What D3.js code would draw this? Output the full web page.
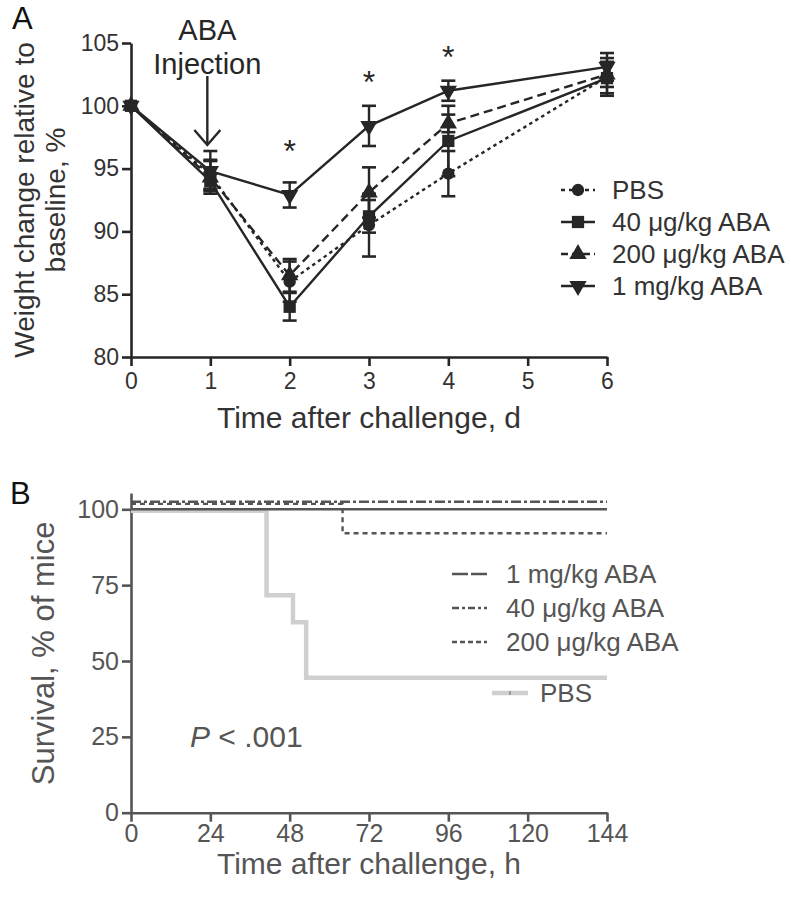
<!DOCTYPE html>
<html><head><meta charset="utf-8">
<script src="https://cdn.jsdelivr.net/npm/d3@7"></script>
<style>body{margin:0;background:#fff} text{font-family:"Liberation Sans",Arial,Helvetica,sans-serif}</style>
</head><body><svg id="c" width="791" height="899"></svg>
<script>
// ---------- Panel A data ----------
const days = [0, 1, 2, 3, 4, 6];
const dayTicks = [0, 1, 2, 3, 4, 5, 6];
const weightTicks = [80, 85, 90, 95, 100, 105];
const groupNames = ["PBS", "40 \u03bcg/kg ABA", "200 \u03bcg/kg ABA", "1 mg/kg ABA"];
const pbsMean   = [100, 94.5, 86.0, 90.5, 94.6, 102.3];
const pbsErr    = [0, 1.2, 1.6, 2.5, 1.8, 1.5];
const aba40Mean = [100, 94.0, 84.0, 91.2, 97.2, 102.2];
const aba40Err  = [0, 0.6, 1.1, 1.3, 2.8, 1.2];
const aba200Mean= [100, 94.3, 86.5, 93.1, 98.6, 102.5];
const aba200Err = [0, 1.3, 1.3, 2.0, 0.7, 1.0];
const aba1Mean  = [100, 94.8, 92.9, 98.4, 101.2, 103.1];
const aba1Err   = [0, 1.6, 1.0, 1.6, 0.8, 1.1];
const starDays  = [2, 3, 4];
const starLevel = [96.9, 102.4, 104.4];

// ---------- Panel B data ----------
const hourTicks = [0, 24, 48, 72, 96, 120, 144];
const survTicks = [0, 25, 50, 75, 100];
const survNames = ["1 mg/kg ABA", "40 \u03bcg/kg ABA", "200 \u03bcg/kg ABA", "PBS"];
const aba1Time = [0, 144],            aba1Surv = [100, 100];
const aba40Time = [0, 144],           aba40Surv = [102.5, 102.5];
const aba200Time = [0, 64, 144],      aba200Surv = [101.8, 92.1, 92.1];
const pbsTime = [0, 41, 49, 53, 144], pbsSurv = [99.5, 71.7, 62.8, 44.5, 44.5];

const svg = d3.select("#c");
const FONT = '"Liberation Sans",Arial,Helvetica,sans-serif';

// ================= Panel A =================
const xA = d3.scaleLinear().domain([0, 6]).range([131, 607]);
const yA = d3.scaleLinear().domain([80, 105]).range([357, 43]);
const inkA = "#262626";

const gA = svg.append("g");
const axA_x = gA.append("g").attr("transform", `translate(0,${yA(80)})`)
  .call(d3.axisBottom(xA).tickValues(dayTicks).tickFormat(d3.format("d")).tickSize(9).tickSizeOuter(0).tickPadding(5));
const axA_y = gA.append("g").attr("transform", `translate(${xA(0)},0)`)
  .call(d3.axisLeft(yA).tickValues(weightTicks).tickFormat(d3.format("d")).tickSize(9).tickSizeOuter(0).tickPadding(3));
[axA_x, axA_y].forEach(a => {
  a.selectAll("path,line").attr("stroke", inkA).attr("stroke-width", 2.6);
  a.selectAll("text").attr("fill", "#333").style("font-size", "23px").style("font-family", FONT);
});
axA_x.selectAll("text").attr("dy", "0.8em");

const seriesA = [
  {name: groupNames[0], mean: pbsMean,   err: pbsErr,   dash: "3.5,3.5", sym: d3.symbolCircle,   size: 120, rot: 0},
  {name: groupNames[1], mean: aba40Mean, err: aba40Err, dash: null,      sym: d3.symbolSquare,   size: 150, rot: 0},
  {name: groupNames[2], mean: aba200Mean,err: aba200Err,dash: "9,5",     sym: d3.symbolTriangle, size: 130, rot: 0},
  {name: groupNames[3], mean: aba1Mean,  err: aba1Err,  dash: null,      sym: d3.symbolTriangle, size: 130, rot: 180}
];
const lineA = d3.line().x(d => xA(d[0])).y(d => yA(d[1]));
seriesA.forEach(s => {
  const pts = days.map((d, i) => [d, s.mean[i]]);
  gA.append("path").attr("d", lineA(pts)).attr("fill", "none").attr("stroke", inkA)
    .attr("stroke-width", 2.4).attr("stroke-dasharray", s.dash);
});
seriesA.forEach(s => {
  days.forEach((d, i) => {
    if (s.err[i] > 0) {
      const x = xA(d), y1 = yA(s.mean[i] - s.err[i]), y2 = yA(s.mean[i] + s.err[i]);
      gA.append("line").attr("x1", x).attr("x2", x).attr("y1", y1).attr("y2", y2).attr("stroke", inkA).attr("stroke-width", 2.4);
      [y1, y2].forEach(yy => gA.append("line").attr("x1", x - 7).attr("x2", x + 7).attr("y1", yy).attr("y2", yy).attr("stroke", inkA).attr("stroke-width", 2.6));
    }
  });
});
seriesA.forEach(s => {
  days.forEach((d, i) => {
    gA.append("path").attr("d", d3.symbol().type(s.sym).size(s.size)())
      .attr("transform", `translate(${xA(d)},${yA(s.mean[i])}) rotate(${s.rot})`).attr("fill", inkA);
  });
});
// asterisks
starDays.forEach((d, i) => {
  gA.append("text").attr("x", xA(d)).attr("y", yA(starLevel[i]) + 17).attr("text-anchor", "middle")
    .style("font-size", "32px").attr("fill", inkA).text("*");
});
// ABA injection annotation
const ax1 = xA(1) - 3;
gA.append("text").attr("x", ax1).attr("y", 40).attr("text-anchor", "middle").style("font-size", "29px").attr("fill", inkA).text("ABA");
gA.append("text").attr("x", ax1).attr("y", 74).attr("text-anchor", "middle").style("font-size", "29px").attr("fill", inkA).text("Injection");
gA.append("line").attr("x1", ax1).attr("x2", ax1).attr("y1", 76).attr("y2", 144).attr("stroke", inkA).attr("stroke-width", 2.4);
gA.append("path").attr("d", `M${ax1 - 13},130 L${ax1},145 L${ax1 + 13},130`).attr("fill", "none").attr("stroke", inkA).attr("stroke-width", 2.4);

// titles
gA.append("text").attr("x", 12).attr("y", 29).style("font-size", "31px").attr("fill", "#111").text("A");
gA.append("text").attr("transform", `translate(34,${(yA(80) + yA(105)) / 2}) rotate(-90)`).attr("text-anchor", "middle")
  .style("font-size", "28px").attr("fill", "#333").text("Weight change relative to");
gA.append("text").attr("transform", `translate(65,${(yA(80) + yA(105)) / 2}) rotate(-90)`).attr("text-anchor", "middle")
  .style("font-size", "28px").attr("fill", "#333").text("baseline, %");
gA.append("text").attr("x", (xA(0) + xA(6)) / 2).attr("y", 428).attr("text-anchor", "middle")
  .style("font-size", "30px").attr("fill", "#333").text("Time after challenge, d");

// legend A
const legA = gA.append("g");
seriesA.forEach((s, i) => {
  const y = 190 + i * 32;
  legA.append("line").attr("x1", 561).attr("x2", 595).attr("y1", y).attr("y2", y).attr("stroke", inkA)
    .attr("stroke-width", 2.4).attr("stroke-dasharray", s.dash ? (i === 0 ? "4,4" : "7,4") : null);
  legA.append("path").attr("d", d3.symbol().type(s.sym).size(s.size)()).attr("transform", `translate(578,${y}) rotate(${s.rot})`).attr("fill", inkA);
  legA.append("text").attr("x", 612).attr("y", y + 9).style("font-size", "26px").attr("fill", "#333").text(s.name);
});

// ================= Panel B =================
const xB = d3.scaleLinear().domain([0, 144]).range([131, 607]);
const yB = d3.scaleLinear().domain([0, 100]).range([812.7, 509.3]);
const inkB = "#555";
const gB = svg.append("g");
const axB_x = gB.append("g").attr("transform", `translate(0,${yB(0)})`)
  .call(d3.axisBottom(xB).tickValues(hourTicks).tickSize(9).tickSizeOuter(0).tickPadding(3));
const axB_y = gB.append("g").attr("transform", `translate(${xB(0)},0)`)
  .call(d3.axisLeft(yB.copy().domain([0, 105.4]).range([812.7, 812.7 - 303.4 * 1.054])).tickValues(survTicks).tickSize(9).tickSizeOuter(0).tickPadding(3));
[axB_x, axB_y].forEach(a => {
  a.selectAll("path,line").attr("stroke", inkB).attr("stroke-width", 2.6);
  a.selectAll("text").attr("fill", inkB).style("font-size", "25px").style("font-family", FONT);
});

const stepLine = d3.line().curve(d3.curveStepAfter).x(d => xB(d[0])).y(d => yB(d[1]));
const seriesB = [
  {name: survNames[0], t: aba1Time,   s: aba1Surv,   color: inkB,   w: 2.6, dash: null},
  {name: survNames[1], t: aba40Time,  s: aba40Surv,  color: inkB,   w: 2.4, dash: "10,3,3,3"},
  {name: survNames[2], t: aba200Time, s: aba200Surv, color: inkB,   w: 2.4, dash: "5,4"},
  {name: survNames[3], t: pbsTime,    s: pbsSurv,    color: "#cfcfcf", w: 4.5, dash: null}
];
seriesB.slice().reverse().forEach(se => {
  const pts = se.t.map((t, i) => [t, se.s[i]]);
  gB.append("path").attr("d", stepLine(pts)).attr("fill", "none").attr("stroke", se.color)
    .attr("stroke-width", se.w).attr("stroke-dasharray", se.dash);
});

gB.append("text").attr("x", 10).attr("y", 504).style("font-size", "31px").attr("fill", "#111").text("B");
gB.append("text").attr("transform", `translate(54,${(yB(0) + yB(105)) / 2}) rotate(-90)`).attr("text-anchor", "middle")
  .style("font-size", "31px").attr("fill", inkB).text("Survival, % of mice");
gB.append("text").attr("x", (xB(0) + xB(144)) / 2).attr("y", 874).attr("text-anchor", "middle")
  .style("font-size", "30px").attr("fill", inkB).text("Time after challenge, h");
const pt = gB.append("text").attr("x", 190).attr("y", 747).style("font-size", "30px").attr("fill", inkB);
pt.append("tspan").style("font-style", "italic").text("P");
pt.append("tspan").text(" < .001");

// legend B
const legB = gB.append("g");
[0, 1, 2].forEach(i => {
  const se = seriesB[i];
  const y = 574 + i * 34;
  legB.append("line").attr("x1", 452).attr("x2", 487).attr("y1", y).attr("y2", y).attr("stroke", inkB)
    .attr("stroke-width", 2.4).attr("stroke-dasharray", i === 0 ? "16,3,16" : (i === 1 ? "7,3,3,3" : "5,3"));
  legB.append("text").attr("x", 506).attr("y", y + 9).style("font-size", "26px").attr("fill", inkB).text(se.name);
});
legB.append("line").attr("x1", 492).attr("x2", 528).attr("y1", 693).attr("y2", 693).attr("stroke", "#cfcfcf").attr("stroke-width", 4.5);
legB.append("line").attr("x1", 510).attr("x2", 510).attr("y1", 691).attr("y2", 695).attr("stroke", "#888").attr("stroke-width", 1.5);
legB.append("text").attr("x", 540).attr("y", 702).style("font-size", "26px").attr("fill", inkB).text(seriesB[3].name);
</script></body></html>
